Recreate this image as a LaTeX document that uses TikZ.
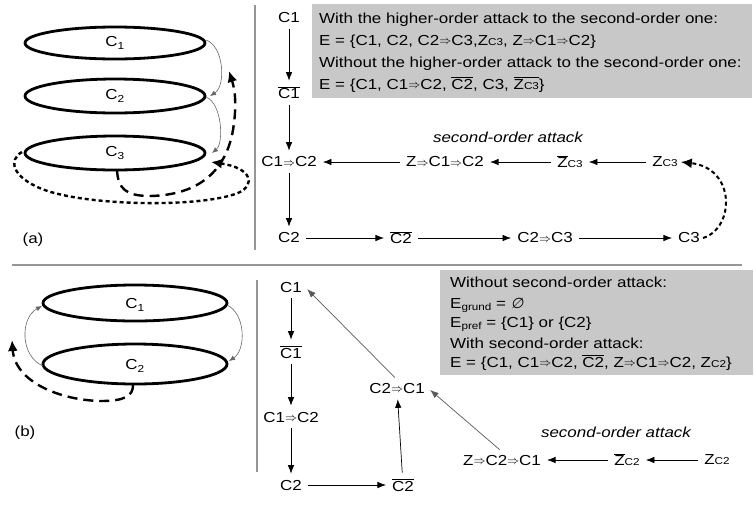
\documentclass[tikz,border=0pt]{standalone}
\usepackage{fontspec}
\setmainfont{Liberation Sans}[FakeStretch=1.17]
\newfontfamily\symfont{DejaVu Sans}[FakeSlant=0.2]
\usetikzlibrary{arrows.meta}

\definecolor{boxgray}{RGB}{200,200,200}
\definecolor{sepgray}{RGB}{150,150,150}

\newcommand{\imp}{\raisebox{0.1ex}{\fontsize{11.5}{11}\selectfont$\Rightarrow$}}
\newcommand{\ovl}[1]{$\overline{\mbox{#1}}$}
\newcommand{\sml}[1]{{\fontsize{10}{10}\selectfont #1}}

\tikzset{
  lbl/.style={font=\fontsize{14.5}{17}\selectfont, inner sep=3pt},
  txt/.style={font=\fontsize{14.5}{17}\selectfont, inner sep=0pt, anchor=base west},
  att/.style={-{Latex[length=8.5pt,width=6.5pt]}, line width=0.7pt, shorten >=3pt, shorten <=3pt},
  ring/.style={line width=2.8pt},
  link/.style={black!60, line width=0.6pt, -{Latex[length=6pt,width=5pt]}},
  hdash/.style={line width=2.4pt, dash pattern=on 10pt off 6pt, -{Latex[length=11pt,width=10pt]}},
  hdot/.style={line width=2.4pt, dash pattern=on 4pt off 3pt, -{Latex[length=11pt,width=10pt]}},
  sep/.style={sepgray, line width=1.2pt}
}

\begin{document}
\begin{tikzpicture}[x=1pt, y=-1pt]
\useasboundingbox (0,0) rectangle (754,507);

% (a) three cycles
\draw[ring] (115,43) ellipse [x radius=90, y radius=16];
\draw[ring] (115,96) ellipse [x radius=90, y radius=17];
\draw[ring] (115,153) ellipse [x radius=90, y radius=17];
\node[lbl] (ca1) at (115,43) {C\textsubscript{1}};
\node[lbl] (ca2) at (115,96) {C\textsubscript{2}};
\node[lbl] (ca3) at (115,153) {C\textsubscript{3}};
\draw[link] (206,40) .. controls (224,46) and (226,86) .. (210,96);
\draw[link] (206,97) .. controls (222,103) and (224,143) .. (212,153);
\draw[hdash] (117,170) .. controls (118,188) and (125,196) .. (150,196)
  .. controls (200,195) and (226,170) .. (233,130) .. controls (237,105) and (235,90) .. (229,71);
\draw[hdot] (22,152) .. controls (8,160) and (12,177) .. (42,189)
  .. controls (85,206) and (200,208) .. (238,193) .. controls (256,185) and (252,168) .. (211,162);
\node[lbl] (la) at (33,240) {(a)};

\draw[sep] (255,5) -- (255,250);

% (a) graph
\fill[boxgray] (312,4) rectangle (752,98);
\node[txt] (ia1) at (319,23) {With the higher-order attack to the second-order one:};
\node[txt] (ia2) at (319,45) {E = \{C1, C2, C2\imp C3,Z\sml{C3}, Z\imp C1\imp C2\}};
\node[txt] (ia3) at (319,67) {Without the higher-order attack to the second-order one:};
\node[txt] (ia4) at (319,89) {E = \{C1, C1\imp C2, \ovl{C2}, C3, \ovl{Z\sml{C3}}\}};

\node[lbl] (a1) at (289,18) {C1};
\node[lbl] (a1n) at (289,93) {\ovl{C1}};
\node[lbl] (a12) at (289,162) {C1\imp C2};
\node[lbl] (a2) at (289,238) {C2};
\node[lbl] (a2n) at (401,238) {\ovl{C2}};
\node[lbl] (a23) at (545,238) {C2\imp C3};
\node[lbl] (a3) at (689,238) {C3};
\node[lbl] (az12) at (445,162) {Z\imp C1\imp C2};
\node[lbl] (azn) at (570,162) {\ovl{Z}\sml{C3}};
\node[lbl] (az) at (665,162) {Z\sml{C3}};
\node[lbl, font=\fontsize{14.5}{17}\selectfont\itshape] (soa) at (508,137) {second-order attack};

\draw[att] (a1) -- (a1n);
\draw[att] (a1n) -- (a12);
\draw[att] (a12) -- (a2);
\draw[att] (a2) -- (a2n);
\draw[att] (a2n) -- (a23);
\draw[att] (a23) -- (a3);
\draw[att] (az) -- (azn);
\draw[att] (azn) -- (az12);
\draw[att] (az12) -- (a12);
\draw[hdot, line width=2pt] (a3.east) .. controls (735,228) and (736,168) .. (az.east);

\draw[sep] (12,265) -- (742,265);

% (b) two cycles
\draw[ring] (135,303) ellipse [x radius=92, y radius=18];
\draw[ring] (135,364) ellipse [x radius=92, y radius=20];
\node[lbl] (cb1) at (135,305) {C\textsubscript{1}};
\node[lbl] (cb2) at (135,366) {C\textsubscript{2}};
\draw[link] (227,305) .. controls (246,314) and (246,350) .. (229,361);
\draw[link] (43,366) .. controls (20,356) and (20,318) .. (42,306);
\draw[hdash] (133,385) .. controls (133,396) and (125,401) .. (100,401)
  .. controls (60,400) and (15,382) .. (12,340);
\node[lbl] (lb) at (25,433) {(b)};

\draw[sep] (257,280) -- (257,472);

% (b) graph
\fill[boxgray] (440,270) rectangle (753,375);
\node[txt] (ib1) at (450,287) {Without second-order attack:};
\node[txt] (ib2) at (450,308) {E\raisebox{-0.3ex}{\sml{grund}} = {\symfont ∅}};
\node[txt] (ib3) at (450,327) {E\raisebox{-0.3ex}{\sml{pref}} = \{C1\} or \{C2\}};
\node[txt] (ib4) at (450,348) {With second-order attack:};
\node[txt] (ib5) at (450,367) {E = \{C1, C1\imp C2, \ovl{C2}, Z\imp C1\imp C2, Z\sml{C2}\}};

\node[lbl] (b1) at (291,287) {C1};
\node[lbl] (b1n) at (291,352) {\ovl{C1}};
\node[lbl] (b12) at (291,417) {C1\imp C2};
\node[lbl] (b2) at (291,485) {C2};
\node[lbl] (b2n) at (403,485) {\ovl{C2}};
\node[lbl] (b21) at (397,388) {C2\imp C1};
\node[lbl] (bz21) at (502,460) {Z\imp C2\imp C1};
\node[lbl] (bzn) at (627,460) {\ovl{Z}\sml{C2}};
\node[lbl] (bz) at (717,460) {Z\sml{C2}};
\node[lbl, font=\fontsize{14.5}{17}\selectfont\itshape] (sob) at (616,432) {second-order attack};

\draw[att] (b1) -- (b1n);
\draw[att] (b1n) -- (b12);
\draw[att] (b12) -- (b2);
\draw[att] (b2) -- (b2n);
\draw[att] (b2n) -- (b21);
\draw[att, black!65] (b21.north) -- (b1.east);
\draw[att, black!65] (bz21.north) -- (b21.east);
\draw[att] (bz) -- (bzn);
\draw[att] (bzn) -- (bz21);
\end{tikzpicture}
\end{document}
